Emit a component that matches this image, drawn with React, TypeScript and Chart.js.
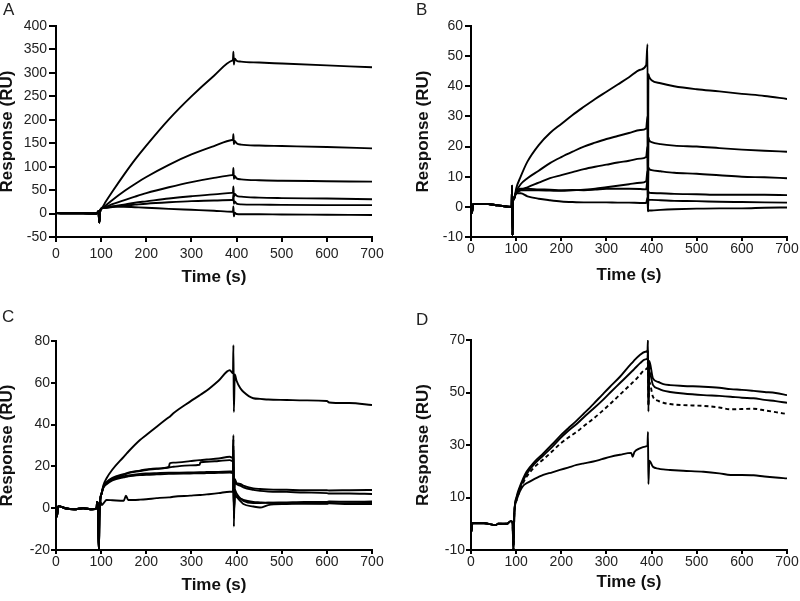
import React, { useEffect, useRef } from 'react';
import { Chart, registerables } from 'chart.js';

Chart.register(...registerables);

const FONT = '"Liberation Sans", Arial, Helvetica, sans-serif';

// ---------- shared ticks ----------
const xTicks = [0, 100, 200, 300, 400, 500, 600, 700];
const yTicksA = [-50, 0, 50, 100, 150, 200, 250, 300, 350, 400];
const yTicksB = [-10, 0, 10, 20, 30, 40, 50, 60];
const yTicksC = [-20, 0, 20, 40, 60, 80];
const yTicksD = [-10, 10, 30, 50, 70];

// ---------- Panel A ----------
const tA = [0, 30, 60, 90, 94, 96, 98, 101, 110, 125, 150, 175, 200, 250, 300, 350, 390, 392, 393, 394, 396, 400, 410, 450, 500, 600, 700];
const baseA = [1, 0.5, 0.5, 0, 5, -19, 6, 11];
const a1 = [25, 47, 82, 115, 145, 201, 250, 294, 326, 328, 345, 318, 330, 326, 324, 322, 320, 316, 312];
const a2 = [17, 29, 47, 63, 78, 104, 126, 144, 157, 158, 169, 148, 155, 150, 147, 145, 144, 142, 139];
const a3 = [14, 20, 28, 36, 43.5, 56, 67, 76, 82, 83, 97, 74, 80, 75, 73, 71, 70, 69, 68];
const a4 = [12.5, 15, 19, 23, 26, 32, 37, 41, 44, 45, 58, 36, 42, 38, 36, 34, 33, 32, 30.5];
const a5 = [12.5, 14, 17, 19, 21, 24, 26.5, 28, 29, 29.5, 41, 21, 26, 21, 19.5, 19, 18.5, 18, 18];
const a6 = [13.5, 15, 14.5, 13.5, 12.5, 10, 8, 6, 4, 4, 15, -6, 2, -1, -1.5, -1.5, -2, -2.5, -3];

// ---------- Panel B ----------
const tB = [0, 2, 5, 30, 60, 90, 91, 92, 93, 95, 97, 100, 110, 125, 150, 175, 200, 225, 250, 275, 300, 325, 350, 375, 388, 391, 392, 393, 395, 400, 420, 450, 500, 550, 600, 650, 700];
const baseB = [0.5, -2, 1, 1, 0.5, 0, 7, -9.5, 2, 2.5, 3.5];
const b1 = [6, 10, 15, 20.5, 24.5, 27.5, 30.5, 33.2, 35.8, 38.2, 40.6, 43, 45.5, 47, 54, -1.5, 44, 43, 42, 41, 40, 39, 38.3, 37.5, 36.8, 35.8];
const b2 = [5, 7.5, 9.5, 12, 14.5, 16.5, 18.3, 20, 21.3, 22.5, 23.5, 24.5, 25.5, 26, 30, 2, 23, 22, 21.5, 20.8, 20.3, 20, 19.5, 19, 18.6, 18.3];
const b3 = [4.5, 5.5, 6.5, 8, 9.5, 10.5, 11.5, 12.5, 13.3, 14, 14.7, 15.3, 16, 16.5, 20, 1, 13, 12.5, 12.2, 11.8, 11.3, 11, 10.5, 10, 9.8, 9.5];
const b4 = [4.5, 5.5, 5.5, 5.5, 5.4, 5.3, 5.5, 5.7, 6, 6.5, 7, 7.5, 8, 8.5, 12, 0, 5, 4.7, 4.6, 4.5, 4.3, 4.2, 4, 4, 4, 3.9];
const b5 = [5, 6, 6, 5.8, 5.7, 5.5, 5.6, 5.5, 5.7, 6, 6, 6, 5.9, 5.8, 9, -1, 2.5, 2.3, 2.3, 2.2, 2, 1.9, 1.7, 1.6, 1.5, 1.4];
const b6 = [4.5, 4.5, 3.5, 2.7, 2.2, 1.8, 1.6, 1.5, 1.5, 1.5, 1.4, 1.4, 1.3, 1.3, 3, -1.5, -1.2, -1.2, -1.2, -1, -0.8, -0.6, -0.5, -0.5, -0.3, -0.2];

// ---------- Panel C ----------
const tC = [0, 2, 5, 20, 40, 60, 80, 90, 91, 93, 95, 96, 98, 101, 105, 112, 125, 150, 155, 160, 186, 200, 223, 250, 252, 260, 297, 318, 320, 334, 360, 385, 392, 393, 394, 396, 400, 408, 415, 437, 452, 470, 511, 550, 600, 605, 650, 700];
const baseC = [-0.5, -4, 1, 0, -0.5, 0, -0.5, 0, 3, -1, -20.8, -5, 4];
const c1 = [7, 11, 14.3, 18.5, 24.6, 25.8, 27, 32.6, 35, 39, 43.5, 43.8, 45.4, 51, 54, 54.3, 56.3, 61, 66, 64.5, 78, 46, 64, 61, 57.5, 55.7, 52.6, 52.3, 52, 51.8, 51.6, 51.3, 50.6, 50.3, 49.4];
const c2 = [7, 10.3, 12.5, 14.5, 16.3, 16.6, 17, 18, 18.5, 19, 19.8, 21.5, 21.8, 22.5, 23, 23, 23.3, 23.8, 24.6, 24, 35, -8.8, 14, 12, 11.6, 10.8, 9.5, 9.2, 9, 8.8, 8.6, 8.6, 8.5, 8.6, 8.7];
const c3 = [7, 10.3, 12.2, 14.2, 16, 16.4, 16.8, 17.8, 18.3, 18.8, 19.5, 19.6, 19.8, 20.5, 20.8, 22, 22.2, 22.6, 23, 22.5, 33, -5, 13, 11.5, 10.8, 10, 8.8, 8.3, 8, 7.8, 7.5, 7.2, 7, 7, 6.8];
const c4 = [7, 10, 12, 13.8, 15.3, 15.5, 15.7, 16.4, 16.6, 16.8, 17, 17, 17, 17.1, 17.2, 17.2, 17.3, 17.4, 17.6, 17.5, 30, -3, 9, 7, 4.7, 3.5, 2.5, 2.5, 2.6, 2.8, 3, 3, 3.2, 3.1, 3.2];
const c5 = [7, 9.8, 11.5, 13.3, 14.8, 15, 15.2, 15.8, 16, 16.2, 16.4, 16.4, 16.5, 16.6, 16.7, 16.7, 16.8, 16.9, 17, 16.8, 28, -2, 7, 5.5, 3.5, 2, 0.8, 0.3, 1.5, 2, 2.2, 2.3, 2.5, 2.4, 2.5];
const c6 = [1.5, 2.3, 3.9, 3.8, 3.6, 6, 3.9, 4.1, 4.3, 4.8, 5.2, 5.2, 5.5, 6, 6.3, 6.3, 6.6, 7.2, 7.9, 7.8, 20, 0, 6, 5.5, 4.7, 4, 3, 2.8, 2.6, 2.4, 2.2, 2.1, 2.3, 2, 2];

// ---------- Panel D ----------
const tD = [0, 1, 3, 30, 55, 60, 80, 88, 92, 94, 96, 101, 108, 115, 123, 140, 160, 180, 197, 215, 234, 250, 271, 290, 308, 330, 355, 358, 362, 374, 386, 391, 392, 393, 395, 403, 415, 426, 441, 470, 515, 550, 575, 600, 626, 650, 675, 700];
const baseD = [-3, -3, 0.3, 0.2, -0.5, 0, 0, 1, 0.5, -10, 4];
const d1 = [10.3, 14.1, 17, 19.8, 23.5, 26.8, 30.3, 33.4, 36.3, 39.3, 42, 45.6, 49, 52.2, 56, 61, 61.5, 62.3, 64.3, 65.5, 66, 70, 42.7, 62, 55.4, 54, 53.2, 52.8, 52.5, 52.2, 51.8, 51.3, 51, 50.6, 50.2, 49.8, 49];
const d2 = [9.8, 13.5, 16.3, 18.9, 22.7, 26, 29.3, 32.4, 35.3, 38, 40.6, 43.8, 46.8, 49.9, 53.6, 57.8, 58.3, 59, 61.1, 62.6, 63, 66, 45, 58, 52.9, 51.5, 50.7, 50.2, 49.6, 49, 48.7, 48.4, 48, 47.8, 47.2, 46.7, 46.1];
const d3 = [9, 12.7, 15.4, 17.9, 21.5, 24.5, 27.6, 30.4, 32.8, 35, 37.2, 40, 42.8, 45.6, 49.2, 53.3, 53.8, 54.4, 56.7, 58.8, 59.5, 62, 45, 54, 48.4, 46.8, 46.1, 45.6, 45.2, 44.9, 44.3, 43.6, 43.7, 43.8, 43.2, 42.5, 41.8];
const d4 = [9, 12.2, 14.3, 15.4, 17, 18.6, 19.6, 20.5, 21.4, 22.4, 23, 23.7, 24.6, 25.5, 26.3, 27, 25.5, 27.3, 28.7, 29.4, 29.8, 35, 15.1, 24, 21.7, 21, 20.7, 20.5, 20.2, 19.8, 19.2, 18.6, 18.6, 18.5, 18, 17.6, 17.3];

type Spec = {
  letter: string;
  letterX: number;
  letterY: number;
  times: number[];
  base: number[];
  series: number[][];
  dashed: boolean[];
  yTicks: number[];
  pad: { left: number; top: number; right: number; bottom: number };
  yWidth: number;
  xHeight: number;
  yTickLen: number;
  yTickPad: number;
  xTickLen: number;
  xTickPad: number;
};

const specs: { spec: Spec; left: number; top: number; w: number; h: number }[] = [
  {
    left: 0, top: 0, w: 400, h: 300,
    spec: {
      letter: 'A', letterX: 3, letterY: 15, times: tA, base: baseA,
      series: [a1, a2, a3, a4, a5, a6], dashed: [false, false, false, false, false, false],
      yTicks: yTicksA, pad: { left: 0, top: 26, right: 28, bottom: 12 }, yWidth: 56, xHeight: 51,
      yTickLen: 7, yTickPad: 2, xTickLen: 5, xTickPad: 4,
    },
  },
  {
    left: 400, top: 0, w: 400, h: 300,
    spec: {
      letter: 'B', letterX: 16, letterY: 15, times: tB, base: baseB,
      series: [b1, b2, b3, b4, b5, b6], dashed: [false, false, false, false, false, false],
      yTicks: yTicksB, pad: { left: 16, top: 26, right: 13, bottom: 14 }, yWidth: 55, xHeight: 49,
      yTickLen: 6, yTickPad: 2, xTickLen: 4, xTickPad: 0,
    },
  },
  {
    left: 0, top: 300, w: 400, h: 301,
    spec: {
      letter: 'C', letterX: 2, letterY: 22, times: tC, base: baseC,
      series: [c1, c2, c3, c4, c5, c6], dashed: [false, false, false, false, false, false],
      yTicks: yTicksC, pad: { left: 0, top: 41, right: 28, bottom: 5 }, yWidth: 56, xHeight: 46,
      yTickLen: 5, yTickPad: 1, xTickLen: 4, xTickPad: 0,
    },
  },
  {
    left: 400, top: 300, w: 400, h: 301,
    spec: {
      letter: 'D', letterX: 16, letterY: 25, times: tD, base: baseD,
      series: [d1, d2, d3, d4], dashed: [false, false, true, false],
      yTicks: yTicksD, pad: { left: 16, top: 40, right: 13, bottom: 8 }, yWidth: 55, xHeight: 43,
      yTickLen: 5, yTickPad: 1, xTickLen: 4, xTickPad: 0,
    },
  },
];

const letterPlugin = {
  id: 'panelLetter',
  afterDraw(chart: any, _args: any, opts: any) {
    const ctx = chart.ctx;
    ctx.save();
    ctx.font = `17px ${FONT}`;
    ctx.fillStyle = '#222';
    ctx.textAlign = 'left';
    ctx.textBaseline = 'alphabetic';
    ctx.fillText(opts.text, opts.x, opts.y);
    ctx.restore();
  },
};

function Panel({ spec, left, top, w, h }: { spec: Spec; left: number; top: number; w: number; h: number }) {
  const ref = useRef<HTMLCanvasElement>(null);
  useEffect(() => {
    const datasets = spec.series.map((s, i) => {
      const vals = [...spec.base, ...s];
      return {
        data: spec.times.map((t, j) => ({ x: t, y: vals[j] })),
        borderColor: '#000',
        borderWidth: 1.9,
        borderDash: spec.dashed[i] ? [4, 3] : [],
        pointRadius: 0,
        fill: false,
        cubicInterpolationMode: 'monotone',
      };
    });
    const yMin = spec.yTicks[0];
    const yMax = spec.yTicks[spec.yTicks.length - 1];
    const chart = new Chart(ref.current as HTMLCanvasElement, {
      type: 'line',
      data: { datasets } as any,
      plugins: [letterPlugin as any],
      options: {
        responsive: false,
        animation: false,
        layout: { padding: spec.pad },
        plugins: {
          legend: { display: false },
          tooltip: { enabled: false },
          panelLetter: { text: spec.letter, x: spec.letterX, y: spec.letterY },
        } as any,
        scales: {
          x: {
            type: 'linear',
            min: 0,
            max: 700,
            afterBuildTicks: (s: any) => { s.ticks = xTicks.map((v) => ({ value: v })); },
            afterFit: (s: any) => { s.height = spec.xHeight; },
            grid: { drawOnChartArea: false, drawTicks: true, tickLength: spec.xTickLen, color: '#000', lineWidth: 2 },
            border: { display: true, color: '#000', width: 2 },
            ticks: { padding: spec.xTickPad, color: '#222', font: { size: 14, family: FONT }, maxRotation: 0, autoSkip: false },
            title: { display: true, text: 'Time (s)', color: '#111', padding: 0, font: { size: 17, weight: 'bold', family: FONT, lineHeight: 1.2 } },
          },
          y: {
            type: 'linear',
            min: yMin,
            max: yMax,
            afterBuildTicks: (s: any) => { s.ticks = spec.yTicks.map((v) => ({ value: v })); },
            afterFit: (s: any) => { s.width = spec.yWidth; },
            grid: { drawOnChartArea: false, drawTicks: true, tickLength: spec.yTickLen, color: '#000', lineWidth: 2 },
            border: { display: true, color: '#000', width: 2 },
            ticks: { padding: spec.yTickPad, color: '#222', font: { size: 14, family: FONT }, autoSkip: false },
            title: { display: true, text: 'Response (RU)', color: '#111', padding: 0, font: { size: 17, weight: 'bold', family: FONT, lineHeight: 0.9 } },
          },
        },
      } as any,
    });
    return () => chart.destroy();
  }, []);
  return (
    <canvas
      ref={ref}
      width={w}
      height={h}
      style={{ position: 'absolute', left, top, width: w, height: h, display: 'block' }}
    />
  );
}

export default function App() {
  return (
    <div style={{ position: 'absolute', left: 0, top: 0, width: 800, height: 601, background: '#fff', overflow: 'hidden' }}>
      {specs.map((p) => (
        <Panel key={p.spec.letter} spec={p.spec} left={p.left} top={p.top} w={p.w} h={p.h} />
      ))}
    </div>
  );
}
